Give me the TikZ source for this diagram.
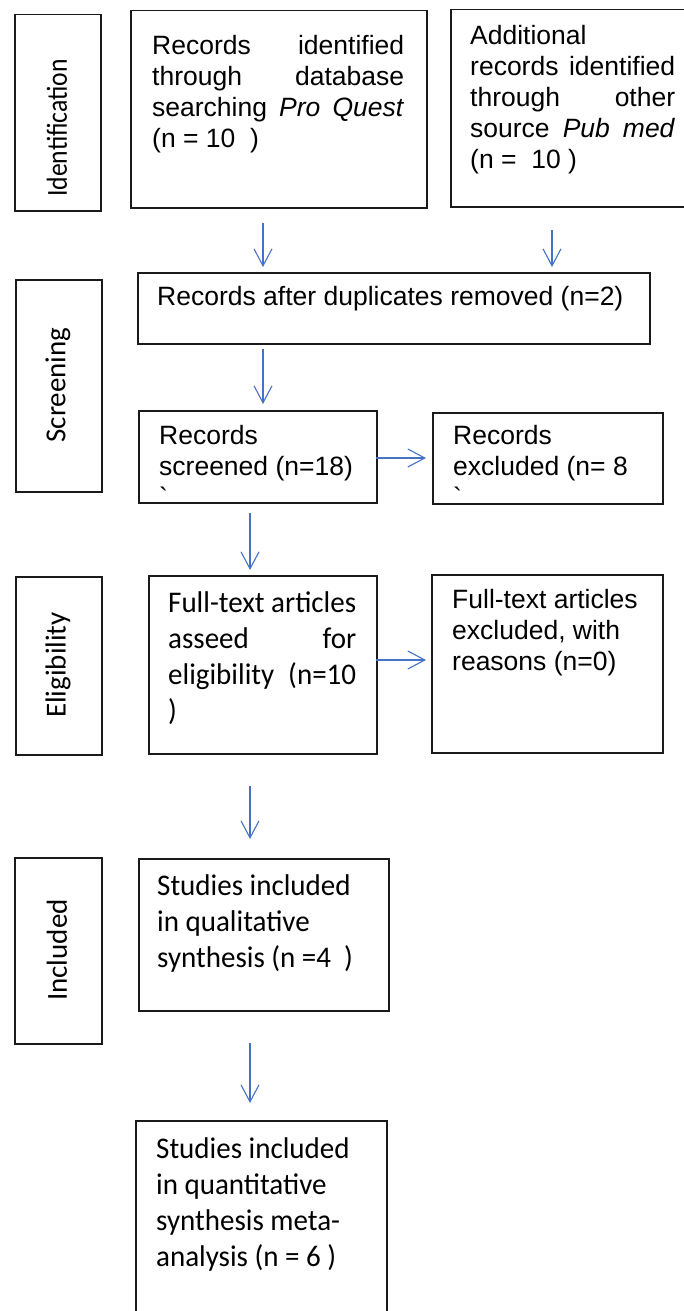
\documentclass[tikz,border=0pt]{standalone}
\usepackage{fontspec}
\setmainfont{Liberation Sans}
\newfontfamily\calfont{Carlito}
\newfontfamily\calbox[FakeStretch=0.967]{Carlito}
\newfontfamily\calnarrow[FakeStretch=0.885]{Carlito}
\usetikzlibrary{arrows.meta}
\definecolor{arrowblue}{HTML}{4472C4}
\definecolor{edge}{HTML}{1A1A1A}

% one line of text stretched to a given width
\newcommand\jline[2]{\hbox to #1{#2}}
% a block of lines whose baseline is the first line's baseline
\newcommand\lines[1]{\vtop{\lineskiplimit=-1000pt #1}}

\tikzset{
  box/.style={draw=edge, line width=1.5pt, inner sep=0pt, anchor=north west},
  flow/.style={draw=arrowblue, line width=1.1pt,
    -{Straight Barb[length=17pt,width=18pt,line width=1.1pt]}},
  arial/.style={inner sep=0pt, anchor=base west, font=\fontsize{26.5}{31}\selectfont},
  calib/.style={inner sep=0pt, anchor=base west, font=\calbox\fontsize{30}{36.3}\selectfont},
  stage/.style={inner sep=0pt, rotate=90, font=\calfont\fontsize{29}{36}\selectfont},
}

\begin{document}
\begin{tikzpicture}[x=1pt, y=-1pt]
\path[use as bounding box, clip] (0,0) rectangle (684,1311);

% ---- stage labels on the left
\node[box, minimum width=86pt, minimum height=196pt] (idbox) at (14,14) {};
\node[box, minimum width=86pt, minimum height=212pt] (scbox) at (15,279) {};
\node[box, minimum width=86pt, minimum height=178pt] (elbox) at (15,576) {};
\node[box, minimum width=87pt, minimum height=186pt] (inbox) at (14,857) {};
\node[stage, font=\calnarrow\fontsize{29}{36}\selectfont] (idtxt) at (57,128) {Identification};
\node[stage] (sctxt) at (58,385) {Screening};
\node[stage] (eltxt) at (58,665) {Eligibility};
\node[stage] (intxt) at (57,950) {Included};

% ---- identification
\node[box, minimum width=296pt, minimum height=197pt] (recdb) at (130,10) {};
\node[arial] (recdb-t) at (152,55) {\lines{%
  \jline{252pt}{Records\hfill identified}
  \jline{252pt}{through\hfill database}
  \jline{252pt}{searching\hfill\textit{Pro}\hfill\textit{Quest}}
  \hbox{(n = 10\ \ )}}};

\node[box, minimum width=250pt, minimum height=197pt] (recoth) at (450,9) {};
\node[arial] (recoth-t) at (470,45) {\lines{%
  \hbox{Additional}
  \jline{205pt}{records\hfill identified}
  \jline{205pt}{through\hfill other}
  \jline{205pt}{source\hfill\textit{Pub}\hfill\textit{med}}
  \hbox{(n =\ \ 10 )}}};

% ---- screening
\node[box, minimum width=512pt, minimum height=71pt] (dedup) at (137,272) {};
\node[arial] (dedup-t) at (157,305) {Records after duplicates removed (n=2)};

\node[box, minimum width=238pt, minimum height=92pt] (screened) at (138,410) {};
\node[arial] (screened-t) at (159,444) {\lines{%
  \hbox{Records}
  \hbox{screened (n=18)}
  \hbox{\textasciigrave}}};

\node[box, minimum width=230pt, minimum height=91pt] (excl) at (432,412) {};
\node[arial] (excl-t) at (453,444) {\lines{%
  \hbox{Records}
  \hbox{excluded (n= 8}
  \hbox{\textasciigrave}}};

% ---- eligibility
\node[box, minimum width=228pt, minimum height=178pt] (fulltext) at (148,575) {};
\node[calib] (fulltext-t) at (168,612) {\lines{%
  \hbox{Full-text articles}
  \jline{188pt}{asseed\hfill for}
  \jline{188pt}{eligibility\hfill (n=10}
  \hbox{)}}};

\node[box, minimum width=231pt, minimum height=178pt] (ftexcl) at (431,574) {};
\node[arial] (ftexcl-t) at (452,608) {\lines{%
  \hbox{Full-text articles}
  \hbox{excluded, with}
  \hbox{reasons (n=0)}}};

% ---- included
\node[box, minimum width=250pt, minimum height=152pt] (qual) at (138,858) {};
\node[calib] (qual-t) at (157,895) {\lines{%
  \hbox{Studies included}
  \hbox{in qualitative}
  \hbox{synthesis (n =4\ \ )}}};

\node[box, minimum width=251pt, minimum height=220pt] (quant) at (135,1120) {};
\node[calib] (quant-t) at (156,1158) {\lines{%
  \hbox{Studies included}
  \hbox{in quantitative}
  \hbox{synthesis meta-}
  \hbox{analysis (n = 6 )}}};

% ---- arrow ends
\coordinate (a1s) at (263,223);  \coordinate (a1e) at (263,267);
\coordinate (a2s) at (552,230);  \coordinate (a2e) at (552,267);
\coordinate (a3s) at (263,349);  \coordinate (a3e) at (263,404);
\coordinate (a4s) at (376,458);  \coordinate (a4e) at (426,458);
\coordinate (a5s) at (250,513);  \coordinate (a5e) at (250,570);
\coordinate (a6s) at (376,660);  \coordinate (a6e) at (426,660);
\coordinate (a7s) at (250,786);  \coordinate (a7e) at (250,839);
\coordinate (a8s) at (250,1043); \coordinate (a8e) at (250,1103);

\foreach \i in {1,...,8} \draw[flow] (a\i s) -- (a\i e);
\end{tikzpicture}
\end{document}
